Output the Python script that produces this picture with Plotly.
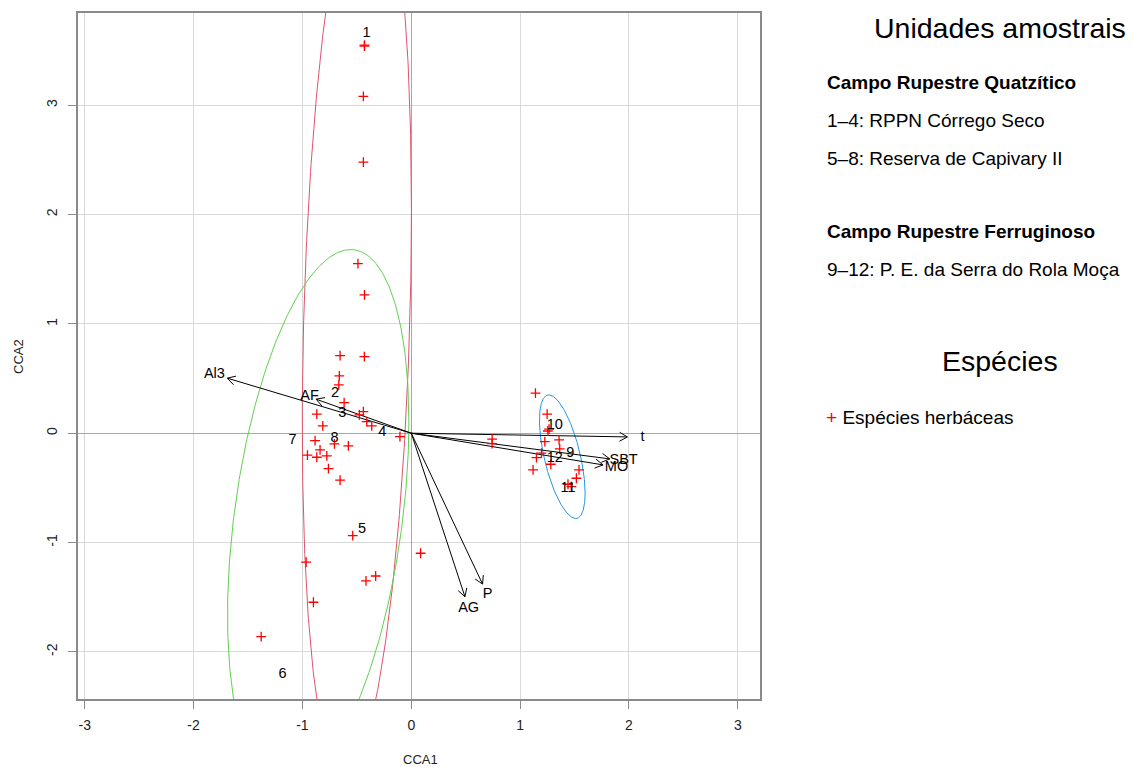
import numpy as np
import plotly.graph_objects as go

# ---------------- data ----------------
species_x = [-0.43, -0.43, -0.44, -0.44, -0.49, -0.43,
             -0.654, -0.431, -0.661, -0.666, -0.617, -0.44, -0.477, -0.868, -0.409, -0.363,
             -0.813, -0.104, -0.884, -0.706, -0.578, -0.838, -0.954, -0.868, -0.776, -0.761, -0.654,
             -0.538, 0.086, -0.966, -0.416, -0.327, -0.899, -1.379,
             0.743, 0.743, 1.141, 1.248, 1.266, 1.255, 1.227, 1.358, 1.364, 1.196, 1.150,
             1.282, 1.119, 1.541, 1.517, 1.44, 1.471]
species_y = [3.55, 3.54, 3.08, 2.48, 1.55, 1.265,
             0.71, 0.70, 0.524, 0.442, 0.28, 0.198, 0.167, 0.174, 0.106, 0.067,
             0.067, -0.031, -0.068, -0.098, -0.116, -0.153, -0.201, -0.22, -0.208, -0.324, -0.43,
             -0.937, -1.098, -1.18, -1.351, -1.306, -1.546, -1.861,
             -0.055, -0.095, 0.366, 0.174, 0.037, 0.02, -0.077, -0.061, -0.144, -0.183, -0.223,
             -0.284, -0.336, -0.336, -0.412, -0.467, -0.489]

site_labels = ["1", "2", "3", "4", "5", "6", "7", "8", "9", "10", "11", "12"]
site_x = [-0.41, -0.70, -0.633, -0.266, -0.452, -1.183, -1.092, -0.706, 1.462, 1.318, 1.44, 1.318]
site_y = [3.66, 0.36, 0.177, 0.009, -0.878, -2.202, -0.07, -0.046, -0.183, 0.076, -0.503, -0.229]

env_labels = ["Al3", "AF", "t", "SBT", "MO", "AG", "P"]
env_x = [-1.69, -0.874, 1.985, 1.823, 1.762, 0.493, 0.655]
env_y = [0.503, 0.311, -0.034, -0.235, -0.29, -1.495, -1.38]

# ellipses: centre and dispersion matrix (sxx, syy, sxy)
ell_cx = [-0.50, -0.855, 1.3875]
ell_cy = [1.055, -0.78, -0.215]
ell_sxx = [0.2516, 0.694, 0.044]
ell_syy = [17.63, 6.05, 0.32]
ell_sxy = [0.4896, 0.735, -0.07]
ell_colors = ["#DF536B", "#61D04F", "#2297E6"]

x_ticks = [-3, -2, -1, 0, 1, 2, 3]
y_ticks = [-2, -1, 0, 1, 2, 3]

# ---------------- layout geometry ----------------
W, H = 1133, 767
ML, MR, MT, MB = 78, 373, 13, 68
PW, PH = W - ML - MR, H - MT - MB
X_RANGE = [-3.062, 3.204]
Y_RANGE = [-2.431, 3.843]
sx = PW / (X_RANGE[1] - X_RANGE[0])
sy = PH / (Y_RANGE[1] - Y_RANGE[0])
FONT = "Liberation Sans, Arial, Helvetica, sans-serif"

fig = go.Figure()

# ellipses
t = np.linspace(0, 2 * np.pi, 400)
for cx, cy, a, b, c, col in zip(ell_cx, ell_cy, ell_sxx, ell_syy, ell_sxy, ell_colors):
    L = np.linalg.cholesky(np.array([[a, c], [c, b]]))
    pts = L @ np.vstack([np.cos(t), np.sin(t)])
    fig.add_trace(go.Scatter(x=cx + pts[0], y=cy + pts[1], mode="lines",
                             line=dict(color=col, width=1), hoverinfo="skip", showlegend=False))

# arrows (biplot)
ax_, ay_ = [], []
head_len, head_ang = 9.0, np.deg2rad(30)
for ex, ey in zip(env_x, env_y):
    ax_ += [0, ex, None]
    ay_ += [0, ey, None]
    ang = np.arctan2(ey * sy, ex * sx)
    for s in (+1, -1):
        hx = ex - head_len * np.cos(ang + s * head_ang) / sx
        hy = ey - head_len * np.sin(ang + s * head_ang) / sy
        ax_ += [ex, hx, None]
        ay_ += [ey, hy, None]
fig.add_trace(go.Scatter(x=ax_, y=ay_, mode="lines", line=dict(color="black", width=1),
                         hoverinfo="skip", showlegend=False))

lab_f = 1.07
fig.add_trace(go.Scatter(x=[v * lab_f for v in env_x], y=[v * lab_f for v in env_y],
                         mode="text", text=env_labels,
                         textfont=dict(family=FONT, size=14.5, color="black"),
                         showlegend=False))

# species
fig.add_trace(go.Scatter(x=species_x, y=species_y, mode="markers",
                         marker=dict(symbol="cross-thin", size=7, color="red",
                                     line=dict(color="red", width=1.3)),
                         showlegend=False))

# sites
fig.add_trace(go.Scatter(x=site_x, y=site_y, mode="text", text=site_labels,
                         textfont=dict(family=FONT, size=14.5, color="black"),
                         showlegend=False))

axis_common = dict(showgrid=True, gridcolor="#d9d9d9", gridwidth=1,
                   zeroline=True, zerolinecolor="#a8a8a8", zerolinewidth=1,
                   showline=True, mirror=True, linecolor="#8a8a8a", linewidth=1.5,
                   ticks="outside", ticklen=8, tickcolor="#8a8a8a", tickwidth=1,
                   tickfont=dict(family=FONT, size=14, color="#222222"))

fig.update_xaxes(range=X_RANGE, tickvals=x_ticks, ticktext=[str(v) for v in x_ticks],
                 ticklabelstandoff=4, **axis_common)
fig.update_yaxes(range=Y_RANGE, tickvals=y_ticks, ticktext=[str(v) for v in y_ticks],
                 tickangle=-90, ticklabelstandoff=6, **axis_common)


def px2x(px):
    return (px - ML) / PW


def py2y(py):
    return (H - MB - py) / PH


annos = []
# axis titles
annos.append(dict(x=px2x(420), y=py2y(760), text="CCA1", font=dict(family=FONT, size=13, color="#222222")))
annos.append(dict(x=px2x(18), y=py2y(357), text="CCA2", textangle=-90,
                  font=dict(family=FONT, size=13, color="#222222")))
# legend block
annos.append(dict(x=px2x(1000), y=py2y(28), text="Unidades amostrais",
                  font=dict(family=FONT, size=28.5, color="black")))
left_items = [
    ("<b>Campo Rupestre Quatzítico</b>", 82.7),
    ("1–4: RPPN Córrego Seco", 120),
    ("5–8: Reserva de Capivary II", 158),
    ("<b>Campo Rupestre Ferruginoso</b>", 231.7),
    ("9–12: P. E. da Serra do Rola Moça", 269),
]
for txt, py in left_items:
    annos.append(dict(x=px2x(825), y=py2y(py), text=txt, xanchor="left",
                      font=dict(family=FONT, size=19, color="black")))
annos.append(dict(x=px2x(1000), y=py2y(361), text="Espécies",
                  font=dict(family=FONT, size=28.5, color="black")))
annos.append(dict(x=px2x(824), y=py2y(418), text="<span style='color:red'>+</span> Espécies herbáceas",
                  xanchor="left", font=dict(family=FONT, size=19, color="black")))
for a in annos:
    a.update(xref="paper", yref="paper", showarrow=False, yanchor=a.get("yanchor", "middle"),
             xanchor=a.get("xanchor", "center"))
fig.update_layout(annotations=annos)

fig.update_layout(width=W, height=H, margin=dict(l=ML, r=MR, t=MT, b=MB, pad=0),
                  plot_bgcolor="white", paper_bgcolor="white", showlegend=False,
                  font=dict(family=FONT))

fig.write_html("out.html", config={"displayModeBar": False},
               post_script="document.body.style.margin='0';document.body.style.overflow='hidden';")
